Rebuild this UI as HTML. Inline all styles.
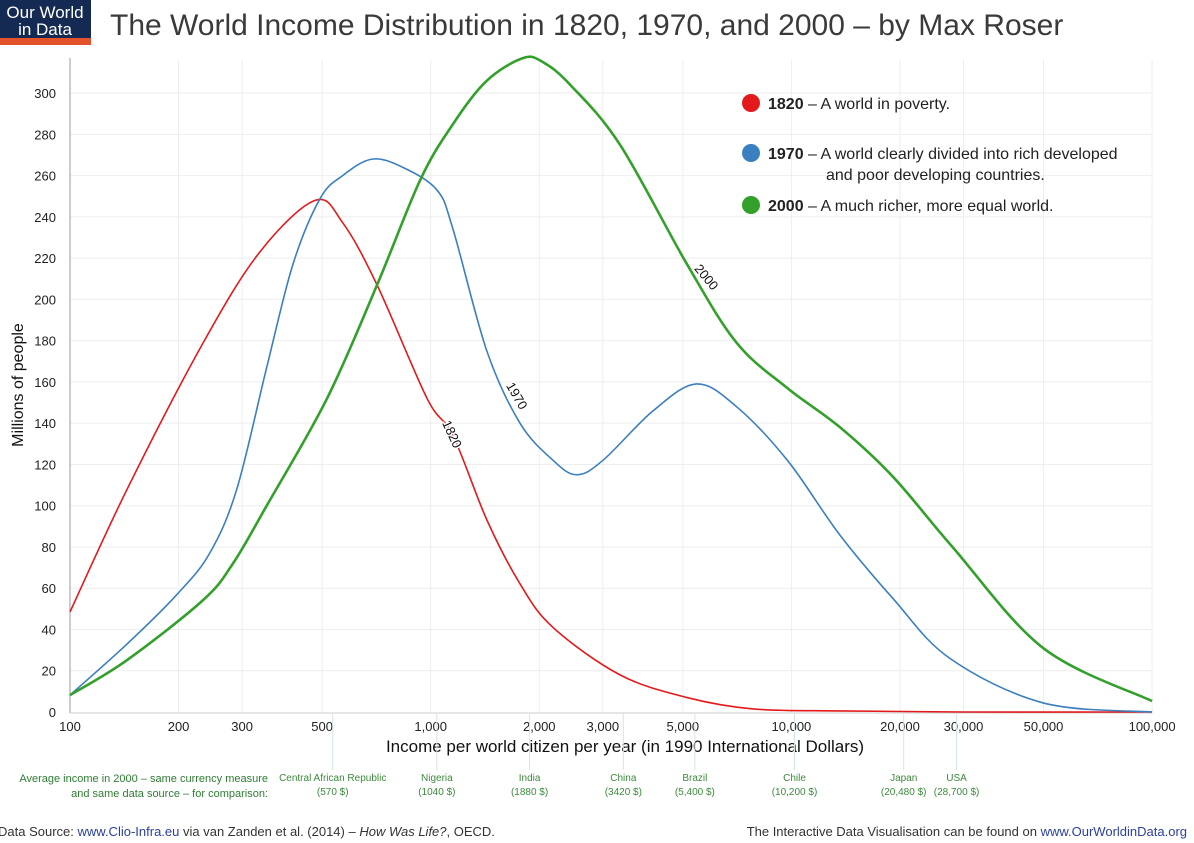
<!DOCTYPE html>
<html><head><meta charset="utf-8"><style>
body{margin:0;background:#fff;width:1194px;height:843px;overflow:hidden;font-family:"Liberation Sans",sans-serif}
svg{display:block}
</style></head><body>
<svg id="c" width="1194" height="843">
 <g>
  <rect x="0" y="0" width="91" height="38" fill="#152a52"/>
  <rect x="0" y="38" width="91" height="7" fill="#e4522b"/>
  <text x="45" y="18" fill="#fff" font-size="17" text-anchor="middle">Our World</text>
  <text x="45" y="35" fill="#fff" font-size="17" text-anchor="middle">in Data</text>
 </g>
 <text x="110" y="35" font-size="30" fill="#3a3a3a">The World Income Distribution in 1820, 1970, and 2000 – by Max Roser</text>
 <g id="grid"></g><g id="axes"></g><g id="lines"></g><g id="lbl"></g>
 <g font-size="16" fill="#222">
  <g><circle cx="751" cy="103" r="9" fill="#e31a1c"/><text x="768" y="109"><tspan font-weight="bold">1820</tspan> – A world in poverty.</text></g>
  <g><circle cx="751" cy="153" r="9" fill="#3a7fbf"/><text x="768" y="159"><tspan font-weight="bold">1970</tspan> – A world clearly divided into rich developed</text><text x="826" y="180">and poor developing countries.</text></g>
  <g><circle cx="751" cy="205" r="9" fill="#33a02c"/><text x="768" y="211"><tspan font-weight="bold">2000</tspan> – A much richer, more equal world.</text></g>
 </g>
 <text transform="translate(23,385) rotate(-90)" text-anchor="middle" font-size="16" fill="#111">Millions of people</text>
 <text x="625" y="752" text-anchor="middle" font-size="17" fill="#111">Income per world citizen per year (in 1990 International Dollars)</text>
 <g id="countries" font-size="10" fill="#3d8a3d"></g>
 <text x="268" y="782" text-anchor="end" font-size="11" fill="#2e7d32">Average income in 2000 – same currency measure</text>
 <text x="268" y="797" text-anchor="end" font-size="11" fill="#2e7d32">and same data source – for comparison:</text>
 <text x="-2" y="836" font-size="13" fill="#333">Data Source: <tspan fill="#2b3f9e">www.Clio-Infra.eu</tspan> via van Zanden et al. (2014) – <tspan font-style="italic">How Was Life?</tspan>, OECD.</text>
 <text x="1187" y="836" text-anchor="end" font-size="13" fill="#333">The Interactive Data Visualisation can be found on <tspan fill="#2b3f9e">www.OurWorldinData.org</tspan></text>
</svg>
<script>
const xTicks=[100,200,300,500,1000,2000,3000,5000,10000,20000,30000,50000,100000];
const yTicks=[0,20,40,60,80,100,120,140,160,180,200,220,240,260,280,300];
const inc1820=[100,144,234,336,478,571,710,977,1153,1432,1770,2183,3348,5137,7832,13640,30000,100000];
const val1820=[48.5,108,179,223,248,237,207,152,134,93,62,41,18,7,1.5,0.5,0,0];
const inc1970=[100,144,198,244,290,351,415,494,570,688,837,1041,1153,1431,1768,2184,2538,3003,4137,5457,7045,9748,13600,19130,27500,49900,100000];
const val1970=[8.2,33,57,77,108,167,217,249,260,268,264,253,234,175,140,122,115,122,146,159,148,122,86,55,26,4.4,0];
const inc2000=[100,144,234,283,351,516,710,936,1153,1431,1805,2047,2437,3348,5137,7045,9748,13640,19130,27970,49900,100000];
const val2000=[8.2,25.2,54.3,72,100,152,207,258,285,306,317,315,304,275,217,179,157,138,114,80,31,5.3];
const countryNames=["Central African Republic","Nigeria","India","China","Brazil","Chile","Japan","USA"];
const countryIncome=[535,1040,1880,3420,5400,10200,20480,28700];
const countryLabels=["(570 $)","(1040 $)","(1880 $)","(3420 $)","(5,400 $)","(10,200 $)","(20,480 $)","(28,700 $)"];
const NS="http://www.w3.org/2000/svg";
const X=v=>70+360.7*Math.log10(v/100);
const Y=v=>712-v*2.063;
function mk(p,tag,at){const e=document.createElementNS(NS,tag);for(const k in at)e.setAttribute(k,at[k]);p.appendChild(e);return e;}
const grid=document.getElementById('grid'),axes=document.getElementById('axes');
yTicks.forEach(t=>{
 if(t>0){const l=mk(grid,'line',{x1:70,x2:1152,y1:Y(t),y2:Y(t),stroke:'#eeeeee'});
 
 }
 const tx=mk(axes,'text',{x:56,y:Y(t)+5,'text-anchor':'end','font-size':13,fill:'#222'});
 tx.textContent=t;
 
 
});
xTicks.forEach(t=>{
 if(t>100){const l=mk(grid,'line',{x1:X(t),x2:X(t),y1:60,y2:712,stroke:'#eeeeee'});
 
 }
 const tx=mk(axes,'text',{x:X(t),y:731,'text-anchor':'middle','font-size':13,fill:'#222'});
 tx.textContent=t.toLocaleString('en-US');
 
 
});
let a=mk(axes,'line',{x1:70,x2:70,y1:58,y2:713,stroke:'#999'});


a=mk(axes,'line',{x1:70,x2:1152,y1:713,y2:713,stroke:'#ccc'});


const cg=document.getElementById('countries');
countryIncome.forEach((v,i)=>{
 const x=X(v);
 const l=mk(cg,'line',{x1:x,x2:x,y1:714,y2:770,stroke:'#d6e6da'});
 
 
 const t1=mk(cg,'text',{x:x,y:781,'text-anchor':'middle'});t1.textContent=countryNames[i];
 
 
 const t2=mk(cg,'text',{x:x,y:795,'text-anchor':'middle'});t2.textContent=countryLabels[i];
 
 
});
function smooth(pts){
 const n=pts.length;let s='M'+pts[0][0]+','+pts[0][1];
 for(let i=0;i<n-1;i++){
  const p0=pts[Math.max(0,i-1)],p1=pts[i],p2=pts[i+1],p3=pts[Math.min(n-1,i+2)];
  const c1=[p1[0]+(p2[0]-p0[0])/6,p1[1]+(p2[1]-p0[1])/6];
  const c2=[p2[0]-(p3[0]-p1[0])/6,p2[1]-(p3[1]-p1[1])/6];
  s+=' C'+c1[0]+','+c1[1]+' '+c2[0]+','+c2[1]+' '+p2[0]+','+p2[1];}
 return s;}
const lg=document.getElementById('lines');
[[inc1820,val1820,'#e31a1c',1.6,'line-1820'],[inc1970,val1970,'#3a7fbf',1.6,'line-1970'],[inc2000,val2000,'#33a02c',2.6,'line-2000']].forEach(s=>{
 const pts=s[0].map((v,i)=>[X(v),Y(s[1][i])]);
 const p=mk(lg,'path',{d:smooth(pts),fill:'none',stroke:s[2],'stroke-width':s[3]});
 
 
});
const lb=document.getElementById('lbl');
[['1820',448,436,65],['1970',513,398,60],['2000',703,280,50]].forEach(s=>{
 const t=mk(lb,'text',{transform:`translate(${s[1]},${s[2]}) rotate(${s[3]})`,'font-size':13,fill:'#111','text-anchor':'middle',stroke:'#fff','stroke-width':3,'paint-order':'stroke'});
 t.textContent=s[0];
 
 
});
</script>
</body></html>
